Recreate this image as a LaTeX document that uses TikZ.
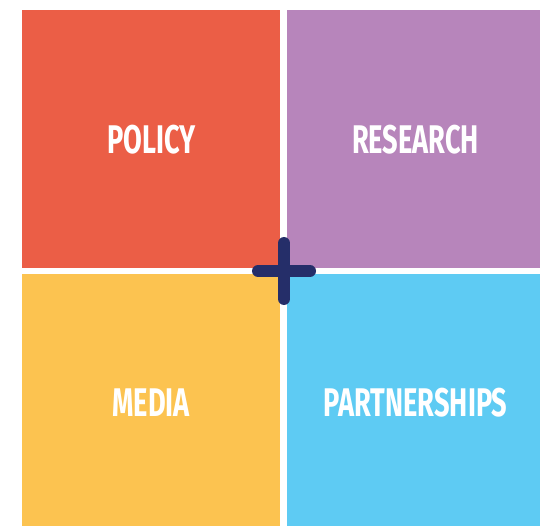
\documentclass[tikz,border=0pt]{standalone}
\usepackage{fontspec}
\setmainfont{Fira Sans}
\usetikzlibrary{positioning}
\definecolor{policyred}{HTML}{EB5E46}
\definecolor{researchpurple}{HTML}{B785BB}
\definecolor{mediayellow}{HTML}{FCC350}
\definecolor{partnerblue}{HTML}{5ECBF3}
\definecolor{plusnavy}{HTML}{252E69}
\newcommand{\narrow}[1]{\scalebox{0.68}[1]{#1}}

\begin{document}
\begin{tikzpicture}[x=1pt,y=-1pt,node distance=5pt and 6pt,
  quad/.style={shape=rectangle,minimum width=258pt,minimum height=258pt,inner sep=0pt,
    text=white,font=\bfseries\fontsize{40}{40}\selectfont}]
   \useasboundingbox (0,0) rectangle (540,526);
   \node[quad,fill=policyred,anchor=north west] (policy) at (22,10) {\narrow{POLICY}} ;
   \node[quad,fill=researchpurple,right=of policy] (research) {\narrow{RESEARCH}} ;
   \node[quad,fill=mediayellow,below=of policy] (media) {\narrow{MEDIA}} ;
   \node[quad,fill=partnerblue,below=of research] (partner) {\narrow{PARTNERSHIPS}} ;
   \coordinate (plus) at (284,271);
   \draw[plusnavy,line width=12pt,line cap=round] ([yshift=-28pt]plus) -- ([yshift=28pt]plus);
   \draw[plusnavy,line width=12pt,line cap=round] ([xshift=-26pt]plus) -- ([xshift=26pt]plus);
\end{tikzpicture}
\end{document}
